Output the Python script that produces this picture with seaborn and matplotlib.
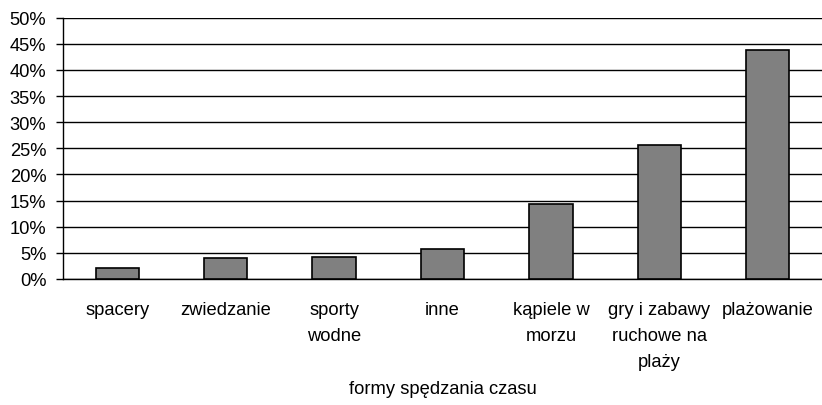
import matplotlib
matplotlib.use("Agg")
from matplotlib import pyplot as plt
from matplotlib.ticker import FixedLocator, FuncFormatter
import pandas as pd
import seaborn as sns

categories = ["spacery", "zwiedzanie", "sporty\nwodne", "inne",
              "kąpiele w\nmorzu", "gry i zabawy\nruchowe na\nplaży", "plażowanie"]
values = [2.1, 4.0, 4.3, 5.8, 14.3, 25.6, 43.8]
y_ticks = list(range(0, 51, 5))

df = pd.DataFrame({"forma": categories, "procent": values})

sns.set_style("white")
plt.rcParams["font.family"] = ["Liberation Sans", "DejaVu Sans"]
plt.rcParams["text.color"] = "black"
plt.rcParams["xtick.color"] = "black"
plt.rcParams["ytick.color"] = "black"
plt.rcParams["axes.labelcolor"] = "black"

fs = 13.2

fig = plt.figure(figsize=(8.22, 4.06), dpi=100)
ax = fig.add_axes([63 / 822, 1 - 280 / 406, (822 - 63) / 822, (280 - 18.7) / 406])

sns.barplot(data=df, x="forma", y="procent", color="#808080", saturation=1,
            edgecolor="black", linewidth=1.2, width=0.4, ax=ax, zorder=3)

ax.set_ylim(0, 50)
ax.set_xlim(-0.5, len(categories) - 0.5)
ax.yaxis.set_major_locator(FixedLocator(y_ticks))
ax.yaxis.set_major_formatter(FuncFormatter(lambda v, p: f"{v:.0f}%"))
ax.grid(axis="y", color="black", linewidth=1, zorder=0)
ax.set_axisbelow(True)

# Excel-style: ticks between categories, labels centred
ax.set_xticks([i - 0.5 for i in range(len(categories) + 1)], minor=True)
ax.tick_params(axis="x", which="minor", length=5, width=1, color="black", direction="out")
ax.tick_params(axis="x", which="major", length=0, pad=16, labelsize=fs)
ax.tick_params(axis="y", which="major", length=5, width=1, color="black",
               direction="out", left=True, pad=7, labelsize=fs)
for lbl in ax.get_xticklabels():
    lbl.set_linespacing(1.7)
    lbl.set_verticalalignment("top")

for side in ["top", "right"]:
    ax.spines[side].set_visible(False)
for side in ["left", "bottom"]:
    ax.spines[side].set_color("black")
    ax.spines[side].set_linewidth(1)

ax.set_ylabel("")
ax.set_xlabel("formy spędzania czasu", fontsize=fs)
ax.xaxis.set_label_coords(0.5, -(389 - 280) / (280 - 18.7))
ax.xaxis.label.set_verticalalignment("center")

plt.savefig("out.png", dpi=100)
